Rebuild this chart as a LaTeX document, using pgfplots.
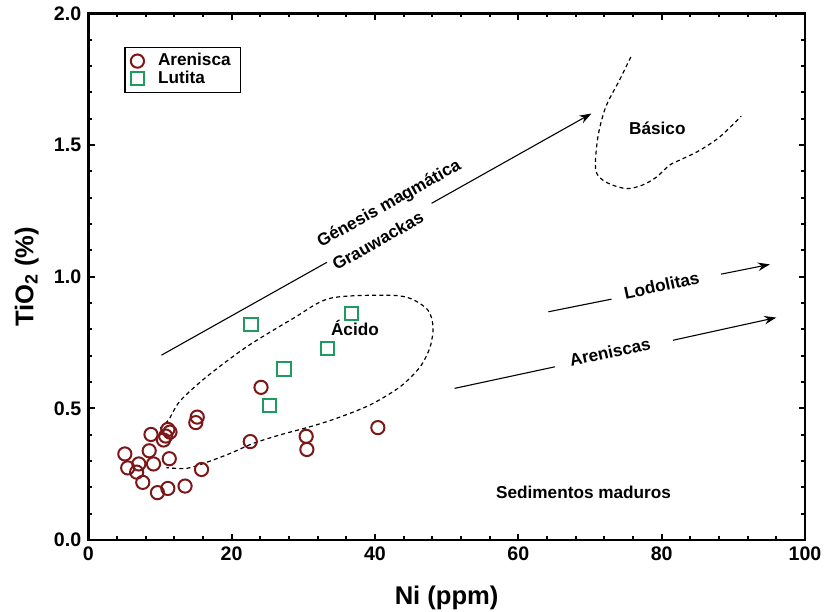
\documentclass[border=0pt]{standalone}
\usepackage{pgfplots}
\pgfplotsset{compat=1.18}
\usepackage{fontspec}
\setmainfont{Liberation Sans}
\usetikzlibrary{arrows.meta}
\definecolor{arcol}{RGB}{125,22,22}
\definecolor{lucol}{RGB}{30,155,95}
\begin{document}
\begin{tikzpicture}
\begin{axis}[
  name=ax,
  scale only axis, width=358.4pt, height=263.3pt,
  xmin=0, xmax=100, ymin=0, ymax=2,
  xtick={0,20,40,60,80,100}, ytick={0,0.5,1,1.5,2},
  minor x tick num=4, minor y tick num=4,
  axis line style={line width=1.4pt},
  major tick style={line width=1pt, black},
  minor tick style={line width=1pt, black},
  major tick length=3.2pt, minor tick length=2pt,
  tick label style={font=\fontsize{9.8}{11}\selectfont\bfseries},
  /pgf/number format/assume math mode=true,
  y tick label style={/pgf/number format/.cd, fixed, fixed zerofill, precision=1},
  xlabel={Ni (ppm)}, ylabel={TiO\textsubscript{2} (\%)},
  label style={font=\fontsize{12.8}{14}\selectfont\bfseries},
  xlabel style={at={(axis description cs:0.5,-0.11)}, anchor=center},
  ylabel style={at={(axis description cs:-0.086,0.5)}, anchor=center},
  legend style={at={(rel axis cs:0.05,0.937)}, anchor=north west, draw=black, line width=0.7pt,
    font=\fontsize{8.6}{10}\selectfont\bfseries, inner xsep=3pt, inner ysep=1pt, row sep=-3pt},
  legend cell align=left,
  clip=false,
]
\addplot[only marks, mark=o, mark size=3.3pt, line width=1pt, color=arcol] coordinates {
  (5.1,0.327) (5.5,0.274) (6.75,0.258) (7.05,0.289) (7.6,0.219) (8.5,0.339)
  (8.75,0.401) (9.1,0.289) (9.65,0.180) (11.1,0.196) (10.5,0.380) (10.8,0.395)
  (11.1,0.420) (11.4,0.410) (11.3,0.309) (13.5,0.205) (15.0,0.446) (15.2,0.467)
  (15.8,0.268) (22.6,0.374) (24.1,0.580) (30.4,0.394) (30.5,0.344) (40.4,0.427)
};
\addlegendentry{\hspace{5pt}Arenisca}
\addplot[only marks, mark=square, mark size=3.3pt, line width=1pt, color=lucol] coordinates {
  (22.7,0.818) (25.3,0.512) (27.3,0.650) (33.4,0.727) (36.7,0.859)
};
\addlegendentry{\hspace{5pt}Lutita}
% Acido region
\addplot[smooth, black, line width=0.6pt, dash pattern=on 2pt off 1.6pt, forget plot] coordinates {
  (10.0,0.424) (11.2,0.456) (12.8,0.528) (16.5,0.620) (22.1,0.734) (28.6,0.842)
  (33.7,0.918) (41.6,0.930) (44.9,0.918) (47.4,0.873) (48.1,0.810) (47.7,0.734)
  (46.3,0.658) (43.5,0.582) (39.3,0.513) (34.6,0.462) (30.9,0.430) (26.7,0.399)
  (23.0,0.367) (19.8,0.329) (16.5,0.295) (13.7,0.272) (10.9,0.275)
};
% Basico region
\addplot[smooth, black, line width=0.6pt, dash pattern=on 2pt off 1.6pt, forget plot] coordinates {
  (75.7,1.835) (74.1,1.746) (72.2,1.645) (71.1,1.531) (70.8,1.405) (72.2,1.360)
  (75.0,1.335) (77.3,1.348) (79.3,1.379) (81.1,1.424) (83.0,1.449) (85.3,1.480)
  (88.1,1.531) (91.1,1.610)
};
% Genesis magmatica arrow
\addplot[black, line width=0.55pt, forget plot] coordinates {(10.2,0.702) (33.3,1.055)};
\addplot[black, line width=0.55pt, -{Stealth[length=6pt,width=4.2pt]}, forget plot] coordinates {(47.9,1.279) (70.2,1.620)};
% Lodolitas arrow
\addplot[black, line width=0.55pt, forget plot] coordinates {(64.2,0.867) (73.0,0.915)};
\addplot[black, line width=0.55pt, -{Stealth[length=6pt,width=4.2pt]}, forget plot] coordinates {(88.3,1.010) (95.1,1.047)};
% Areniscas arrow
\addplot[black, line width=0.55pt, forget plot] coordinates {(51.1,0.576) (65.1,0.658)};
\addplot[black, line width=0.55pt, -{Stealth[length=6pt,width=4.2pt]}, forget plot] coordinates {(81.6,0.759) (96.0,0.845)};
\begin{scope}[every node/.style={font=\fontsize{8.6}{10}\selectfont\bfseries}]
\node[rotate=29.3] at (axis cs:42.0,1.276) {Génesis magmática};
\node[rotate=29.3] at (axis cs:40.4,1.137) {Grauwackas};
\node[rotate=12.3] at (axis cs:80.0,0.968) {Lodolitas};
\node[rotate=12.4] at (axis cs:72.8,0.715) {Areniscas};
\node at (axis cs:79.4,1.563) {Básico};
\node at (axis cs:37.2,0.805) {Ácido};
\node at (axis cs:69.1,0.183) {Sedimentos maduros};
\end{scope}
\end{axis}
\pgfresetboundingbox
\path[use as bounding box] ([xshift=-44.15pt,yshift=-35.5pt]ax.south west) rectangle ([xshift=10pt,yshift=6.75pt]ax.north east);
\end{tikzpicture}
\end{document}
